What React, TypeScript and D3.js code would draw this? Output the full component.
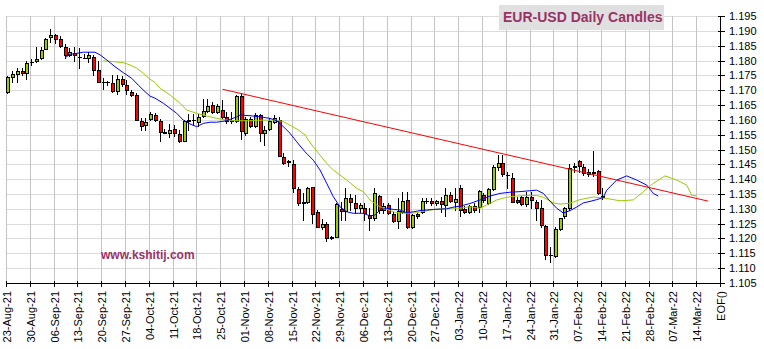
import React from 'react';
import * as d3 from 'd3';

const W = 764;
const H = 349;

const xLabels = ["23-Aug-21","30-Aug-21","06-Sep-21","13-Sep-21","20-Sep-21","27-Sep-21","04-Oct-21","11-Oct-21","18-Oct-21","25-Oct-21","01-Nov-21","08-Nov-21","15-Nov-21","22-Nov-21","29-Nov-21","06-Dec-21","13-Dec-21","20-Dec-21","27-Dec-21","03-Jan-22","10-Jan-22","17-Jan-22","24-Jan-22","31-Jan-22","07-Feb-22","14-Feb-22","21-Feb-22","28-Feb-22","07-Mar-22","14-Mar-22","EOF()"];

const yTicks = [1.105,1.110,1.115,1.120,1.125,1.130,1.135,1.140,1.145,1.150,1.155,1.160,1.165,1.170,1.175,1.180,1.185,1.190,1.195];

const opens = [1.1693,1.1745,1.1755,1.1766,1.1757,1.1794,1.1799,1.1809,1.1840,1.1878,1.1885,1.1872,1.1847,1.1819,1.1826,1.1812,1.1810,1.1810,1.1813,1.1768,1.1729,1.1727,1.1725,1.1697,1.1736,1.1718,1.1695,1.1684,1.1597,1.1582,1.1602,1.1616,1.1596,1.1558,1.1557,1.1570,1.1551,1.1529,1.1597,1.1599,1.1594,1.1614,1.1631,1.1650,1.1628,1.1633,1.1609,1.1598,1.1597,1.1680,1.1555,1.1602,1.1580,1.1615,1.1555,1.1570,1.1594,1.1600,1.1476,1.1460,1.1450,1.1366,1.1321,1.1322,1.1372,1.1290,1.1239,1.1249,1.1204,1.1206,1.1300,1.1294,1.1335,1.1319,1.1302,1.1302,1.1279,1.1268,1.1343,1.1297,1.1312,1.1283,1.1260,1.1290,1.1330,1.1240,1.1283,1.1290,1.1325,1.1326,1.1318,1.1326,1.1313,1.1346,1.1322,1.1369,1.1298,1.1290,1.1309,1.1307,1.1346,1.1320,1.1366,1.1442,1.1453,1.1415,1.1403,1.1330,1.1339,1.1316,1.1339,1.1324,1.1302,1.1242,1.1145,1.1141,1.1231,1.1276,1.1302,1.1445,1.1462,1.1440,1.1423,1.1425,1.1427,1.1339];
const highs = [1.1747,1.1763,1.1774,1.1774,1.1798,1.1806,1.1845,1.1845,1.1877,1.1906,1.1890,1.1883,1.1855,1.1842,1.1845,1.1841,1.1822,1.1830,1.1818,1.1800,1.1740,1.1731,1.1750,1.1750,1.1747,1.1734,1.1701,1.1690,1.1606,1.1606,1.1628,1.1623,1.1602,1.1569,1.1587,1.1581,1.1565,1.1599,1.1620,1.1620,1.1620,1.1669,1.1669,1.1661,1.1655,1.1667,1.1625,1.1628,1.1683,1.1690,1.1611,1.1608,1.1622,1.1619,1.1578,1.1606,1.1616,1.1611,1.1487,1.1465,1.1465,1.1373,1.1352,1.1375,1.1375,1.1296,1.1265,1.1254,1.1208,1.1319,1.1324,1.1369,1.1350,1.1346,1.1319,1.1319,1.1302,1.1369,1.1346,1.1319,1.1319,1.1291,1.1335,1.1358,1.1358,1.1283,1.1287,1.1335,1.1335,1.1335,1.1330,1.1341,1.1369,1.1358,1.1369,1.1380,1.1308,1.1313,1.1319,1.1364,1.1352,1.1369,1.1448,1.1480,1.1480,1.1425,1.1420,1.1341,1.1343,1.1358,1.1358,1.1330,1.1330,1.1245,1.1172,1.1240,1.1268,1.1307,1.1451,1.1455,1.1466,1.1450,1.1435,1.1495,1.1430,1.1369];
const lows = [1.1692,1.1728,1.1729,1.1752,1.1737,1.1785,1.1795,1.1806,1.1838,1.1863,1.1858,1.1847,1.1807,1.1815,1.1800,1.1774,1.1807,1.1795,1.1750,1.1726,1.1704,1.1716,1.1695,1.1687,1.1715,1.1687,1.1681,1.1598,1.1565,1.1565,1.1598,1.1597,1.1530,1.1554,1.1542,1.1547,1.1525,1.1529,1.1565,1.1583,1.1580,1.1611,1.1628,1.1622,1.1622,1.1605,1.1590,1.1590,1.1594,1.1535,1.1550,1.1577,1.1577,1.1530,1.1516,1.1565,1.1589,1.1477,1.1450,1.1443,1.1358,1.1313,1.1262,1.1318,1.1251,1.1238,1.1233,1.1190,1.1198,1.1204,1.1263,1.1263,1.1296,1.1285,1.1291,1.1263,1.1229,1.1263,1.1285,1.1285,1.1283,1.1257,1.1237,1.1285,1.1236,1.1236,1.1268,1.1286,1.1318,1.1313,1.1313,1.1290,1.1275,1.1322,1.1296,1.1275,1.1285,1.1285,1.1290,1.1290,1.1324,1.1316,1.1364,1.1430,1.1412,1.1369,1.1322,1.1318,1.1313,1.1310,1.1302,1.1263,1.1240,1.1132,1.1121,1.1139,1.1229,1.1270,1.1295,1.1425,1.1425,1.1415,1.1410,1.1410,1.1350,1.1333];
const closes = [1.1746,1.1753,1.1765,1.1757,1.1790,1.1796,1.1806,1.1837,1.1872,1.1885,1.1874,1.1849,1.1820,1.1828,1.1820,1.1811,1.1808,1.1818,1.1768,1.1729,1.1728,1.1726,1.1697,1.1736,1.1721,1.1699,1.1684,1.1600,1.1580,1.1594,1.1619,1.1599,1.1558,1.1556,1.1565,1.1557,1.1529,1.1596,1.1599,1.1600,1.1608,1.1630,1.1647,1.1628,1.1647,1.1611,1.1597,1.1597,1.1680,1.1563,1.1602,1.1580,1.1616,1.1557,1.1567,1.1595,1.1605,1.1479,1.1453,1.1458,1.1369,1.1321,1.1322,1.1369,1.1283,1.1238,1.1250,1.1201,1.1202,1.1315,1.1293,1.1335,1.1322,1.1302,1.1313,1.1287,1.1268,1.1352,1.1295,1.1308,1.1285,1.1260,1.1293,1.1327,1.1240,1.1279,1.1276,1.1326,1.1327,1.1318,1.1326,1.1315,1.1346,1.1327,1.1332,1.1296,1.1290,1.1309,1.1296,1.1361,1.1330,1.1366,1.1442,1.1453,1.1416,1.1413,1.1324,1.1324,1.1316,1.1341,1.1330,1.1302,1.1245,1.1144,1.1143,1.1231,1.1268,1.1302,1.1437,1.1440,1.1445,1.1420,1.1417,1.1420,1.1352,1.1344];

const blueSlot = [12.39,13.45,14.85,16.24,18.7,19.75,21.16,22.9,24.64,26.41,27.79,29.2,30.25,31.3,33.05,34.45,35.86,37.25,38.66,40.06,41.45,42.86,44.26,46.36,48.47,49.16,51.26,53.36,55.46,56.87,58.26,59.66,61.07,62.82,64.56,65.97,67.37,68.76,70.17,71.57,72.96,75.06,76.47,77.52,78.57,79.98,81.37,82.77,84.18,85.57,86.97,89.77,92.58,94.33,95.38,97.48,99.58,101.68,103.78,105.88,107.98,110.08,111.49,112.88,114.29,115.69,117.08,118.49,119.9,121.28,122.69,124.1,125.48,126.2,128.3,130.4,132.5,134.6,136,137.04];
const blueVal = [1.1809,1.1821,1.1824,1.1828,1.1828,1.1819,1.1802,1.1779,1.1759,1.1740,1.1717,1.1695,1.1680,1.1673,1.1656,1.1639,1.1622,1.1599,1.1586,1.1577,1.1588,1.1592,1.1592,1.1597,1.1610,1.1616,1.1614,1.1610,1.1605,1.1597,1.1577,1.1555,1.1526,1.1492,1.1464,1.1431,1.1386,1.1341,1.1307,1.1290,1.1285,1.1285,1.1276,1.1279,1.1296,1.1302,1.1298,1.1296,1.1287,1.1290,1.1294,1.1298,1.1300,1.1307,1.1309,1.1318,1.1330,1.1343,1.1352,1.1356,1.1358,1.1361,1.1363,1.1352,1.1326,1.1302,1.1286,1.1294,1.1306,1.1320,1.1325,1.1331,1.1338,1.1363,1.1397,1.1411,1.1397,1.1380,1.1352,1.1343];

const greenSlot = [20.44,22.54,24.64,26.05,27.46,28.84,30.25,31.3,32.35,34.45,36.55,37.96,40.06,42.16,44.26,46.36,48.47,51.26,54.05,56.87,58.26,59.66,61.41,62.82,63.51,64.56,65.97,67.37,68.76,70.17,71.57,73.68,75.06,76.47,77.88,79.27,80.67,82.08,84.18,86.28,88.38,90.48,92.58,95.38,97.48,99.58,100.99,103.09,105.19,107.29,109.39,111.49,112.88,114.98,116.39,118.49,120.59,123.38,126.2,128.99,131.79,133.89,135.99,138.45,140.9,143.0,144.05,145.1];
const greenVal = [1.1799,1.1796,1.1793,1.1785,1.1774,1.1757,1.1737,1.1726,1.1706,1.1684,1.1656,1.1633,1.1622,1.1613,1.1605,1.1599,1.1597,1.1597,1.1599,1.1599,1.1594,1.1582,1.1566,1.1549,1.1532,1.1509,1.1481,1.1453,1.1431,1.1414,1.1397,1.1369,1.1358,1.1330,1.1313,1.1302,1.1294,1.1287,1.1285,1.1287,1.1294,1.1299,1.1302,1.1302,1.1307,1.1302,1.1313,1.1330,1.1339,1.1343,1.1345,1.1345,1.1339,1.1320,1.1316,1.1319,1.1331,1.1340,1.1335,1.1327,1.1330,1.1358,1.1386,1.1411,1.1397,1.1380,1.1346,1.1343];

const trendSlot = [45.5, 147.5];
const trendVal = [1.1703, 1.1326];

const FONT = '"Liberation Sans", Arial, Helvetica, sans-serif';
const UP = '#99cc00';
const DOWN = '#ff0000';

export default function App() {
  const x = d3.scaleLinear().domain([0, 150]).range([6, 720]);
  const y = d3.scaleLinear().domain([1.105, 1.195]).range([283, 16]);
  const top = y(1.195);
  const bottom = y(1.105);
  const left = x(0);
  const right = x(150);

  const line = d3.line<[number, number]>().x(d => x(d[0])).y(d => y(d[1]));
  const bluePts = blueSlot.map((s, i) => [s, blueVal[i]] as [number, number]);
  const greenPts = greenSlot.map((s, i) => [s, greenVal[i]] as [number, number]);
  const trendPts = trendSlot.map((s, i) => [s, trendVal[i]] as [number, number]);

  const ax = Math.round(right) + 0.5;
  const ay = Math.round(bottom) + 0.5;

  return (
    <svg width={W} height={H} style={{ position: 'absolute', left: 0, top: 0, background: '#fff' }} fontFamily={FONT}>
      <rect x={0} y={0} width={W} height={H} fill="#fff" />
      {/* horizontal grid */}
      {yTicks.map((v, k) => (
        <line key={'hg' + k} x1={left} x2={right} y1={Math.round(y(v)) + 0.5} y2={Math.round(y(v)) + 0.5} stroke="#dcdcdc" strokeWidth={1} shapeRendering="crispEdges" />
      ))}
      {/* vertical grid */}
      {xLabels.map((t, k) => (
        <line key={'vg' + k} x1={Math.round(x(k * 5)) + 0.5} x2={Math.round(x(k * 5)) + 0.5} y1={top} y2={bottom} stroke="#c4c4c4" strokeWidth={1} shapeRendering="crispEdges" />
      ))}

      {/* watermark */}
      <text x={101} y={258.5} fontSize={12} fontWeight="bold" fill="#993366">www.kshitij.com</text>

      {/* candles */}
      {opens.map((o, i) => {
        const c = closes[i];
        const cx = Math.round(x(i + 0.5));
        const yt = Math.round(y(Math.max(o, c)));
        const yb = Math.round(y(Math.min(o, c)));
        const yh = Math.round(y(highs[i]));
        const yl = Math.round(y(lows[i]));
        const h = yb - yt;
        return (
          <g key={'c' + i} shapeRendering="crispEdges">
            <line x1={cx - 0.5} x2={cx - 0.5} y1={yh} y2={yl + 1} stroke="#000" strokeWidth={1} />
            {h >= 1 ? (
              <rect x={cx - 1.5} y={yt + 0.5} width={3} height={h} fill={c >= o ? UP : DOWN} stroke="#000" strokeWidth={1} />
            ) : (
              <line x1={cx - 2} x2={cx + 2} y1={yt + 0.5} y2={yt + 0.5} stroke="#000" strokeWidth={1} />
            )}
          </g>
        );
      })}

      {/* moving averages */}
      <path d={line(greenPts) || ''} fill="none" stroke={UP} strokeWidth={1} />
      <path d={line(bluePts) || ''} fill="none" stroke="#0000ff" strokeWidth={1} />
      {/* trendline */}
      <path d={line(trendPts) || ''} fill="none" stroke="#ff0000" strokeWidth={1} />

      {/* axes */}
      <line x1={left} x2={ax} y1={ay} y2={ay} stroke="#000" strokeWidth={1} shapeRendering="crispEdges" />
      <line x1={ax} x2={ax} y1={top} y2={ay} stroke="#000" strokeWidth={1} shapeRendering="crispEdges" />
      {xLabels.map((t, k) => {
        const tx = Math.round(x(k * 5)) + 0.5;
        return (
          <g key={'xt' + k}>
            <line x1={tx} x2={tx} y1={ay - 3} y2={ay + 3} stroke="#000" strokeWidth={1} shapeRendering="crispEdges" />
            <text transform={`translate(${tx + 4},291) rotate(-90)`} textAnchor="end" fontSize={11} fill="#000">{t}</text>
          </g>
        );
      })}
      {yTicks.map((v, k) => {
        const ty = Math.round(y(v)) + 0.5;
        return (
          <g key={'yt' + k}>
            <line x1={ax - 3} x2={ax + 4} y1={ty} y2={ty} stroke="#000" strokeWidth={1} shapeRendering="crispEdges" />
            <text x={729} y={ty} dy="0.35em" fontSize={11} fill="#000">{v.toFixed(3)}</text>
          </g>
        );
      })}

      {/* title */}
      <rect x={499} y={5} width={165} height={25} fill="#e0e0e0" />
      <text x={503} y={22} fontSize={14} fontWeight="bold" fill="#993366">EUR-USD Daily Candles</text>
    </svg>
  );
}
